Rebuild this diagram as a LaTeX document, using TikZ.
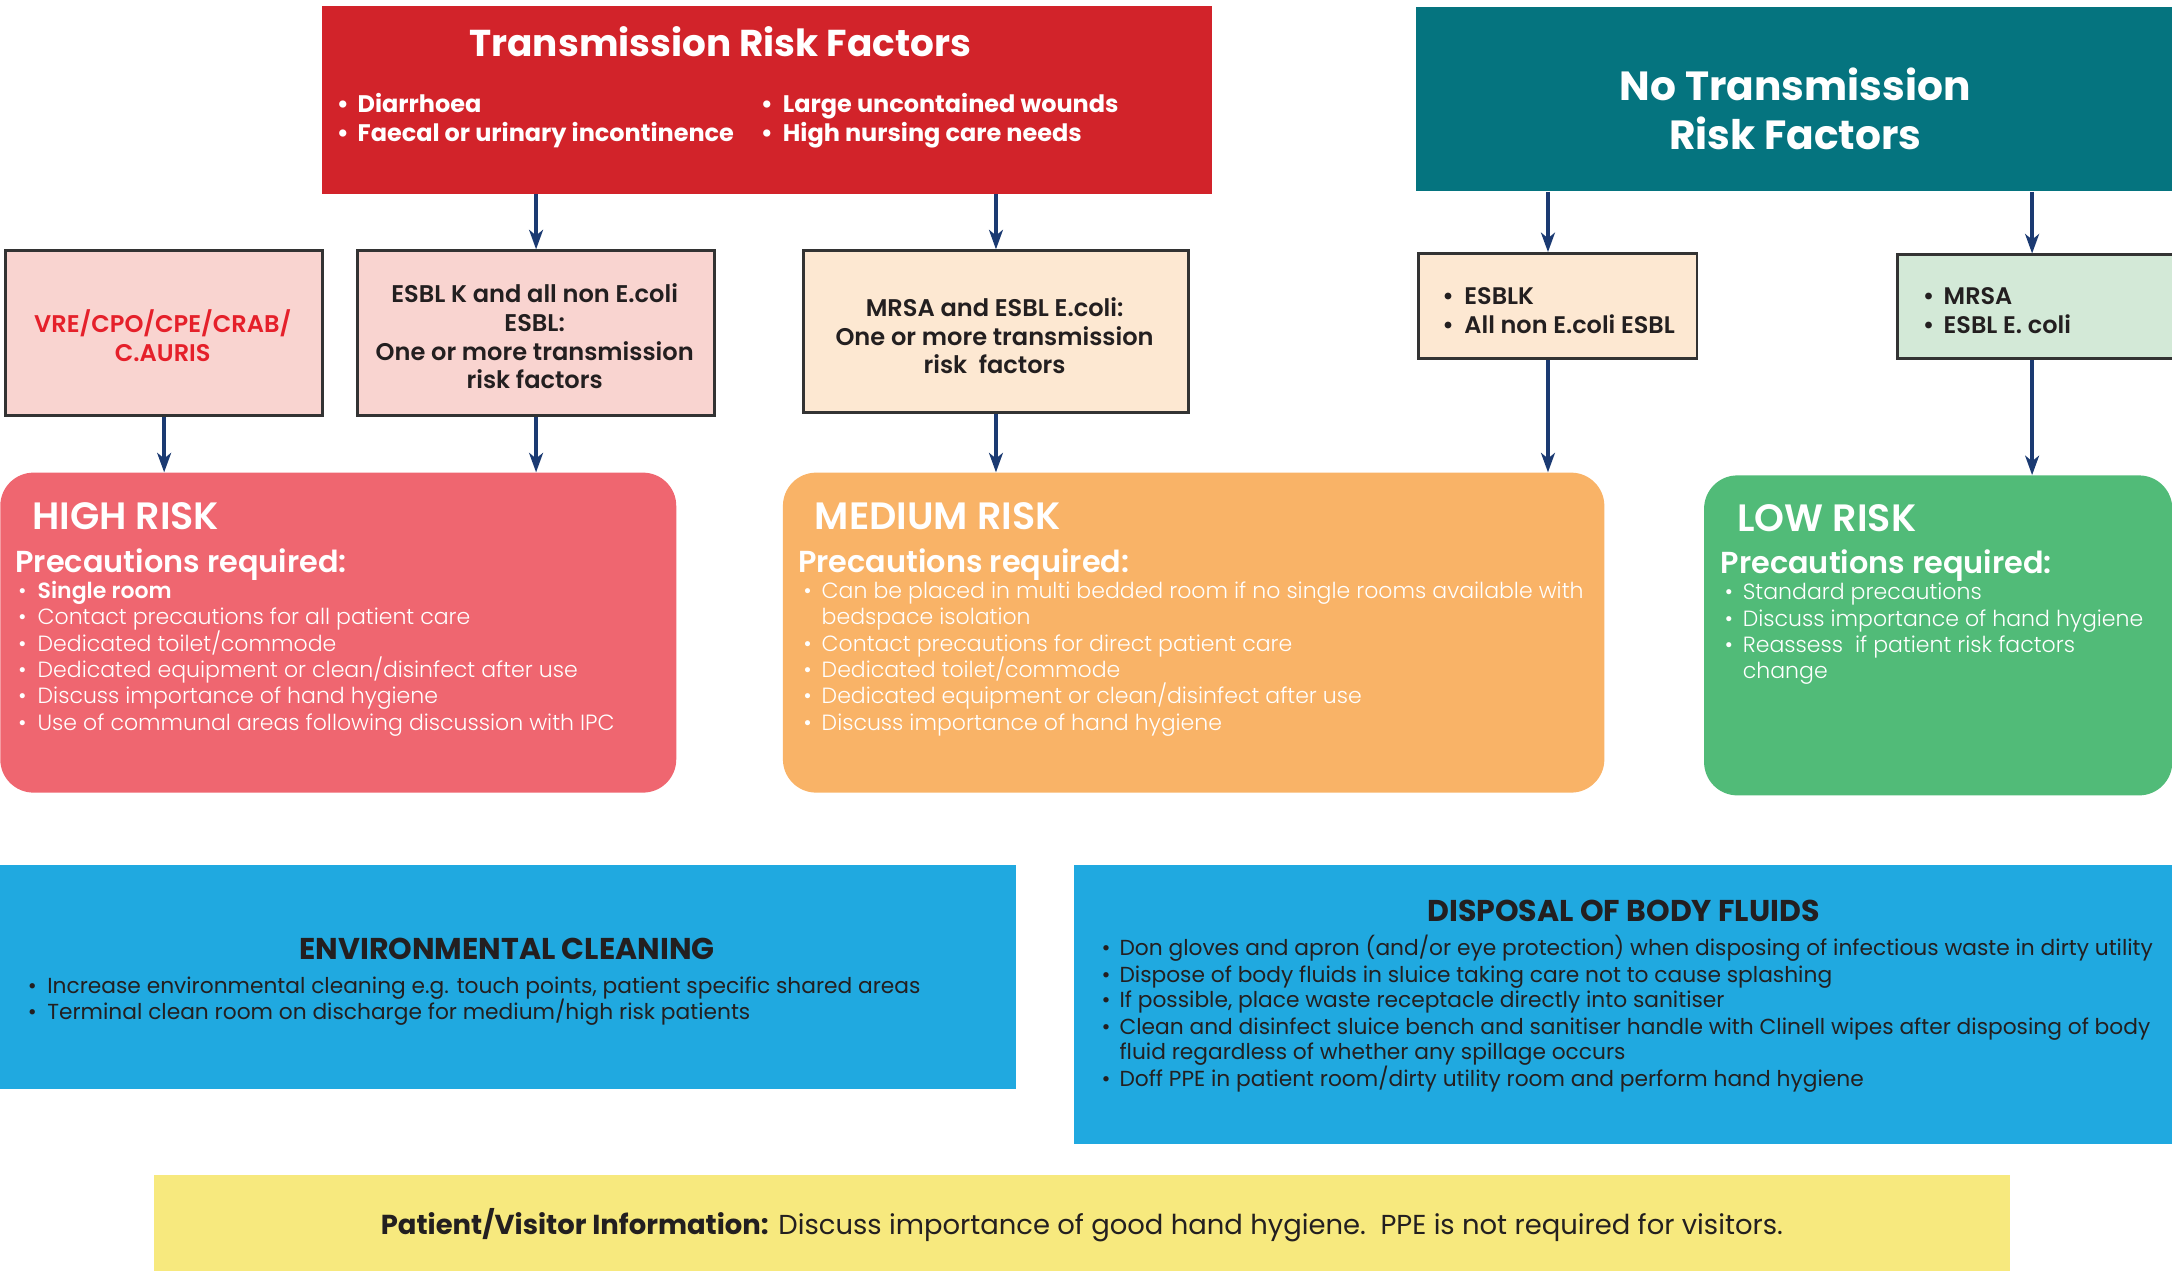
\documentclass[tikz,border=0pt]{standalone}
\usepackage{fontspec}
\setmainfont{Poppins}
\newfontfamily\pl{Poppins Light}
\newfontfamily\psb{Poppins SemiBold}
\newfontfamily\pb{Poppins Bold}
\usetikzlibrary{arrows.meta}
\definecolor{trfred}{HTML}{D2232A}
\definecolor{teal}{HTML}{05747F}
\definecolor{navy}{HTML}{1B3A72}
\definecolor{pinkbg}{HTML}{F9D4D0}
\definecolor{peach}{HTML}{FDE8D2}
\definecolor{lgreen}{HTML}{D3E9D7}
\definecolor{highc}{HTML}{EF6670}
\definecolor{medc}{HTML}{F9B367}
\definecolor{lowc}{HTML}{51BB78}
\definecolor{bluec}{HTML}{20A9E0}
\definecolor{yellowc}{HTML}{F7E97E}
\definecolor{dark}{HTML}{231F20}
\definecolor{vrered}{HTML}{E5202A}
\definecolor{boxline}{HTML}{333333}
\newcommand\fsz[2]{\fontsize{#1}{#2}\selectfont}
\newcommand\bitem[5]{\node[txt] (#1b) at (#2,#4) {\textbullet}; \node[txt] (#1) at (#3,#4) {#5};}
\begin{document}
\begin{tikzpicture}[x=1pt,y=-1pt,
  arr/.style={draw=navy,line width=2.6pt,-{Stealth[length=14pt,width=10pt,inset=4pt]}},
  sbox/.style={draw=boxline,line width=2pt,inner sep=0,anchor=north west},
  fbox/.style={inner sep=0,anchor=north west},
  rbox/.style={inner sep=0,anchor=north west,rounded corners=24pt},
  txt/.style={inner sep=0,anchor=base west},
]
\useasboundingbox (0,0) rectangle (1568,917);
% boxes
\node[fbox,fill=trfred,minimum width=643pt,minimum height=136pt] (trf) at (232,4) {};
\node[fbox,fill=teal,minimum width=560pt,minimum height=133pt] (ntrf) at (1022,5) {};
\node[sbox,fill=pinkbg,minimum width=229pt,minimum height=119pt] (vre) at (3,180) {};
\node[sbox,fill=pinkbg,minimum width=258pt,minimum height=119pt] (esblkl) at (257,180) {};
\node[sbox,fill=peach,minimum width=278pt,minimum height=117pt] (mrsal) at (579,180) {};
\node[sbox,fill=peach,minimum width=201pt,minimum height=76pt] (esblkr) at (1023,182) {};
\node[sbox,fill=lgreen,minimum width=202pt,minimum height=75pt] (mrsar) at (1369,183) {};
\node[rbox,fill=highc,minimum width=488pt,minimum height=231pt] (high) at (0,341) {};
\node[rbox,fill=medc,minimum width=593pt,minimum height=231pt] (med) at (565,341) {};
\node[rbox,fill=lowc,minimum width=338pt,minimum height=231pt] (low) at (1230,343) {};
\node[fbox,fill=bluec,minimum width=733pt,minimum height=162pt] (env) at (0,624) {};
\node[fbox,fill=bluec,minimum width=800pt,minimum height=202pt] (disp) at (775,624) {};
\node[fbox,fill=yellowc,minimum width=1340pt,minimum height=75pt] (info) at (111,848) {};
% arrows
\draw[arr] (trf.south -| esblkl.north) -- (esblkl.north);
\draw[arr] (trf.south -| mrsal.north) -- (mrsal.north);
\draw[arr] ([xshift=-7pt]esblkr.north |- ntrf.south) -- ([xshift=-7pt]esblkr.north);
\draw[arr] ([xshift=-4pt]mrsar.north |- ntrf.south) -- ([xshift=-4pt]mrsar.north);
\draw[arr] (vre.south) -- (vre.south |- high.north);
\draw[arr] (esblkl.south) -- (esblkl.south |- high.north);
\draw[arr] (mrsal.south) -- (mrsal.south |- med.north);
\draw[arr] ([xshift=-7pt]esblkr.south) -- ([xshift=-7pt]esblkr.south |- med.north);
\draw[arr] ([xshift=-4pt]mrsar.south) -- ([xshift=-4pt]mrsar.south |- low.north);
\begin{scope}[yshift=-1pt]
% top texts
\node[inner sep=0,anchor=base,text=white,font=\pb\fsz{27}{32}] (trft) at (520,39.5) {Transmission Risk Factors};
\begin{scope}[text=white,font=\pb\fsz{17.3}{21}]
\bitem{rfa}{243}{258}{80}{Diarrhoea}
\bitem{rfb}{243}{258}{101}{Faecal or urinary incontinence}
\bitem{rfc}{549}{565}{80}{Large uncontained wounds}
\bitem{rfd}{549}{565}{101}{High nursing care needs}
\end{scope}
\node[inner sep=0,align=center,text=white,font=\pb\fsz{29.4}{35}] (ntrft) at (1296,77.5) {No Transmission\\Risk Factors};
\node[inner sep=0,align=center,text=vrered,font=\psb\fsz{17.4}{20.7}] (vret) at (117.5,241.5) {VRE/CPO/CPE/CRAB/\\C.AURIS};
\node[inner sep=0,align=center,text=dark,font=\psb\fsz{17.4}{20.7}] (esblklt) at (386,242) {ESBL K and all non E.coli\\ESBL:\\One or more transmission\\risk factors};
\node[inner sep=0,align=center,text=dark,font=\psb\fsz{17.4}{20.7}] (mrsalt) at (718,241.5) {MRSA and ESBL E.coli:\\One or more transmission\\risk\ \ factors};
\begin{scope}[text=dark,font=\psb\fsz{17.3}{20}]
\bitem{ea}{1041}{1057}{218.5}{ESBLK}
\bitem{eb}{1041}{1057}{239.5}{All non E.coli ESBL}
\bitem{ma}{1388}{1403}{218.5}{MRSA}
\bitem{mb}{1388}{1403}{239.5}{ESBL E. coli}
\end{scope}
% risk boxes
\begin{scope}[text=white,font=\psb\fsz{27.5}{32}]
\node[txt] (hight) at (23,381) {HIGH RISK};
\node[txt] (medt) at (588,381) {MEDIUM RISK};
\node[txt] (lowt) at (1254,383) {LOW RISK};
\end{scope}
\begin{scope}[text=white,font=\psb\fsz{21.9}{26}]
\node[txt] (highp) at (11,412) {Precautions required:};
\node[txt] (medp) at (576,412) {Precautions required:};
\node[txt] (lowp) at (1242,413) {Precautions required:};
\end{scope}
\begin{scope}[text=white,font=\pl\fsz{15.9}{19}]
\bitem{ha}{13}{27}{431}{{\psb Single room}}
\bitem{hb}{13}{27}{450}{Contact precautions for all patient care}
\bitem{hc}{13}{27}{469}{Dedicated toilet/commode}
\bitem{hd}{13}{27}{488}{Dedicated equipment or clean/disinfect after use}
\bitem{he}{13}{27}{507}{Discuss importance of hand hygiene}
\bitem{hf}{13}{27}{526}{Use of communal areas following discussion with IPC}
\bitem{mda}{580}{593}{431}{Can be placed in multi bedded room if no single rooms available with}
\node[txt] (mdacont) at (593,450) {bedspace isolation};
\bitem{mdb}{580}{593}{469}{Contact precautions for direct patient care}
\bitem{mdc}{580}{593}{488}{Dedicated toilet/commode}
\bitem{mdd}{580}{593}{507}{Dedicated equipment or clean/disinfect after use}
\bitem{mde}{580}{593}{526}{Discuss importance of hand hygiene}
\bitem{la}{1245}{1258}{432}{Standard precautions}
\bitem{lb}{1245}{1258}{451}{Discuss importance of hand hygiene}
\bitem{lc}{1245}{1258}{470}{Reassess\ \ if patient risk factors}
\node[txt] (lccont) at (1258,489) {change};
\end{scope}
% blue boxes
\node[inner sep=0,anchor=base,text=dark,font=\pb\fsz{21.7}{26}] (envt) at (366,691.5) {ENVIRONMENTAL CLEANING};
\node[inner sep=0,anchor=base,text=dark,font=\pb\fsz{21.7}{26}] (dispt) at (1172,664.5) {DISPOSAL OF BODY FLUIDS};
\begin{scope}[text=dark,font=\fsz{15.7}{19}]
\bitem{eva}{20}{34}{716}{Increase environmental cleaning e.g. touch points, patient specific shared areas}
\bitem{evb}{20}{34}{735}{Terminal clean room on discharge for medium/high risk patients}
\bitem{da}{795}{808}{689}{Don gloves and apron (and/or eye protection) when disposing of infectious waste in dirty utility}
\bitem{db}{795}{808}{708}{Dispose of body fluids in sluice taking care not to cause splashing}
\bitem{dc}{795}{808}{726}{If possible, place waste receptacle directly into sanitiser}
\bitem{dd}{795}{808}{746}{Clean and disinfect sluice bench and sanitiser handle with Clinell wipes after disposing of body}
\node[txt] (ddcont) at (808,764) {fluid regardless of whether any spillage occurs};
\bitem{de}{795}{808}{783}{Doff PPE in patient room/dirty utility room and perform hand hygiene}
\end{scope}
\node[inner sep=0,anchor=base,text=dark,font=\fsz{19.8}{24}] (infot) at (781,890.5) {{\pb Patient/Visitor Information:} Discuss importance of good hand hygiene.\ \ PPE is not required for visitors.};
\end{scope}
\end{tikzpicture}
\end{document}
